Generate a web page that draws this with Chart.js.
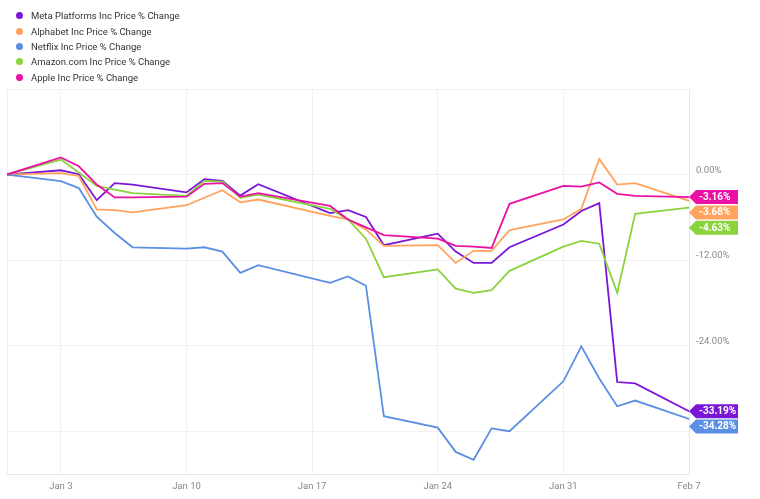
<!DOCTYPE html>
<html>
<head>
<meta charset="utf-8">
<script src="https://cdn.jsdelivr.net/npm/chart.js@4"></script>
<style>
  body { margin: 0; background: #fff; font-family: Roboto, "Noto Sans", sans-serif; }
  #wrap { position: relative; width: 760px; height: 499px; }
  #legend { position: absolute; left: 16px; top: 8px; font-size: 9.5px; color: #333; }
  #legend .row { display: flex; align-items: center; height: 15.4px; }
  #legend .dot { width: 7px; height: 7px; border-radius: 50%; margin-right: 8px; }
</style>
</head>
<body>
<div id="wrap">
  <canvas id="chart" width="760" height="499"></canvas>
  <div id="legend"></div>
</div>
<script>
// Fechas de negociación (cierre diario)
const dates = ["2021-12-31", "2022-01-03", "2022-01-04", "2022-01-05", "2022-01-06", "2022-01-07",
    "2022-01-10", "2022-01-11", "2022-01-12", "2022-01-13", "2022-01-14",
    "2022-01-18", "2022-01-19", "2022-01-20", "2022-01-21",
    "2022-01-24", "2022-01-25", "2022-01-26", "2022-01-27", "2022-01-28",
    "2022-01-31", "2022-02-01", "2022-02-02", "2022-02-03", "2022-02-04", "2022-02-07"];

// Cambio de precio en % por serie
const meta = [0, 0.6, 0.05, -3.6, -1.2, -1.4, -2.5, -0.65, -0.9, -2.95, -1.35, -5.4, -5.0, -5.95, -9.9,
    -8.3, -10.8, -12.4, -12.4, -10.2, -7.0, -5.1, -4.0, -29.1, -29.3, -33.19];
const alphabet = [0, 0.2, -0.2, -4.9, -5.0, -5.3, -4.3, -3.25, -2.2, -3.9, -3.5, -5.8, -6.3, -7.7, -10.0,
    -9.9, -12.4, -10.7, -10.7, -7.8, -6.3, -4.8, 2.2, -1.4, -1.2, -3.68];
const netflix = [0, -0.93, -1.9, -5.9, -8.2, -10.2, -10.4, -10.2, -10.8, -13.8, -12.7, -15.2, -14.3, -15.6, -33.9,
    -35.5, -38.9, -40.0, -35.6, -36.0, -29.0, -24.1, -28.6, -32.5, -31.7, -34.28];
const amazon = [0, 2.1, 0.3, -1.6, -2.1, -2.6, -3.0, -0.9, -1.0, -3.25, -2.8, -4.8, -6.3, -9.0, -14.4,
    -13.3, -16.0, -16.6, -16.2, -13.5, -10.1, -9.3, -9.7, -16.6, -5.5, -4.63];
const apple = [0, 2.4, 1.16, -1.4, -3.2, -3.2, -3.1, -1.3, -1.2, -3.1, -2.6, -4.4, -6.3, -7.4, -8.5,
    -9.0, -10.0, -10.1, -10.3, -4.1, -1.6, -1.7, -1.1, -2.7, -3.0, -3.16];

// Etiquetas de los ejes
const xTickDays = [0, 3, 10, 17, 24, 31, 38];
const xTickLabels = ["", "Jan 3", "Jan 10", "Jan 17", "Jan 24", "Jan 31", "Feb 7"];
const yTicks = [12, 0, -12, -24, -36];
const yTickLabels = ["", "0.00%", "-12.00%", "-24.00%", ""];

const seriesNames = ["Meta Platforms Inc Price % Change", "Alphabet Inc Price % Change",
    "Netflix Inc Price % Change", "Amazon.com Inc Price % Change", "Apple Inc Price % Change"];
const seriesValues = [meta, alphabet, netflix, amazon, apple];
const seriesColors = ["#7b16d6", "#ffa35e", "#5b8fe3", "#8ad33f", "#ec11a5"];

// Días desde el inicio
const start = Date.UTC(2021, 11, 31);
const dayIndex = dates.map(d => {
    const p = d.split("-");
    return Math.round((Date.UTC(+p[0], +p[1] - 1, +p[2]) - start) / 86400000);
});

const datasets = seriesValues.map((vals, i) => ({
    label: seriesNames[i],
    data: vals.map((v, k) => ({ x: dayIndex[k], y: v })),
    borderColor: seriesColors[i],
    backgroundColor: seriesColors[i],
    borderWidth: 1.8,
    pointRadius: 0,
    tension: 0,
    order: seriesValues.length - i
}));

// Leyenda en HTML
const legend = document.getElementById("legend");
seriesNames.forEach((name, i) => {
    const row = document.createElement("div");
    row.className = "row";
    row.innerHTML = `<span class="dot" style="background:${seriesColors[i]}"></span><span>${name}</span>`;
    legend.appendChild(row);
});

// Etiquetas de valor final a la derecha
const endTags = {
    id: "endTags",
    afterDraw(chart) {
        const ctx = chart.ctx;
        const area = chart.chartArea;
        const items = chart.data.datasets.map((ds, i) => {
            const pts = chart.getDatasetMeta(i).data;
            const last = ds.data[ds.data.length - 1];
            return { y: pts[pts.length - 1].y, color: ds.borderColor, text: last.y.toFixed(2) + "%" };
        }).sort((a, b) => a.y - b.y);
        const h = 15.3;
        for (let i = 1; i < items.length; i++) {
            if (items[i].y < items[i - 1].y + h) items[i].y = items[i - 1].y + h;
        }
        ctx.save();
        items.forEach(it => {
            const tip = area.right;
            const x0 = tip + 7, x1 = tip + 49;
            ctx.fillStyle = it.color;
            ctx.beginPath();
            ctx.moveTo(tip, it.y);
            ctx.lineTo(x0, it.y - 7);
            ctx.lineTo(x1, it.y - 7);
            ctx.lineTo(x1, it.y + 7);
            ctx.lineTo(x0, it.y + 7);
            ctx.closePath();
            ctx.fill();
            ctx.fillStyle = "#fff";
            ctx.font = "bold 10px Roboto";
            ctx.textBaseline = "middle";
            ctx.textAlign = "left";
            ctx.fillText(it.text, x0 + 3, it.y + 0.5);
        });
        ctx.restore();
    }
};

new Chart(document.getElementById("chart"), {
    type: "line",
    data: { datasets: datasets },
    plugins: [endTags],
    options: {
        responsive: false,
        animation: false,
        layout: { padding: { left: 6, top: 89, right: 0, bottom: 0 } },
        plugins: { legend: { display: false }, tooltip: { enabled: false } },
        scales: {
            x: {
                type: "linear",
                min: 0,
                max: 38,
                afterBuildTicks: scale => { scale.ticks = xTickDays.map(v => ({ value: v })); },
                afterFit: scale => { scale.height = 25; },
                ticks: {
                    autoSkip: false,
                    maxRotation: 0,
                    padding: 7,
                    color: "#888",
                    font: { family: "Roboto", size: 9.5 },
                    callback: v => xTickLabels[xTickDays.indexOf(v)]
                },
                grid: { color: "#f0f0f0", drawTicks: false },
                border: { color: "#e6e6e6" }
            },
            y: {
                position: "right",
                min: -42,
                max: 12,
                afterBuildTicks: scale => { scale.ticks = yTicks.map(v => ({ value: v })); },
                afterFit: scale => { scale.width = 71; },
                ticks: {
                    autoSkip: false,
                    padding: 7,
                    labelOffset: -4,
                    color: "#888",
                    font: { family: "Roboto", size: 9.5 },
                    callback: v => yTickLabels[yTicks.indexOf(v)]
                },
                grid: { color: "#f0f0f0", drawTicks: false },
                border: { color: "#e6e6e6" }
            }
        }
    }
});
</script>
</body>
</html>
